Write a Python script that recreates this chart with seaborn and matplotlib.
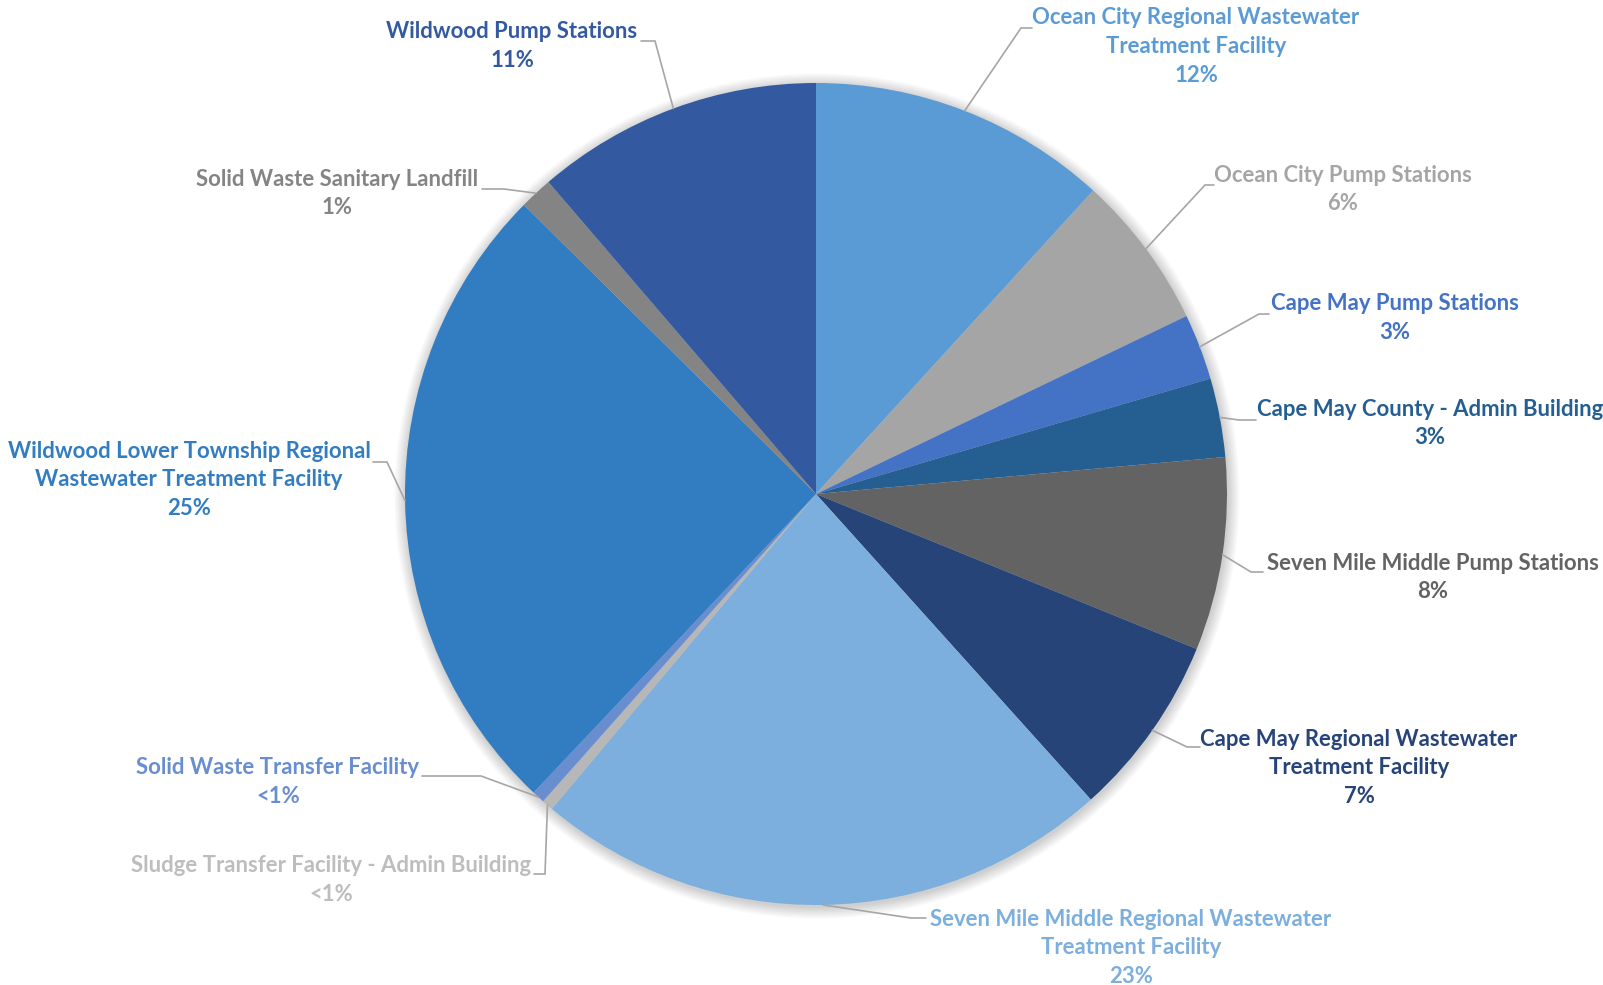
import numpy as np
import matplotlib
matplotlib.use("Agg")
import matplotlib.pyplot as plt
import seaborn as sns
from matplotlib.patches import Circle

sns.set_theme(style="white")
plt.rcParams['font.family'] = ['Lato', 'DejaVu Sans']

# --------------------------- data ---------------------------
facilities = [
    "Ocean City Regional Wastewater\nTreatment Facility",
    "Ocean City Pump Stations",
    "Cape May Pump Stations",
    "Cape May County - Admin Building",
    "Seven Mile Middle Pump Stations",
    "Cape May Regional Wastewater\nTreatment Facility",
    "Seven Mile Middle Regional Wastewater\nTreatment Facility",
    "Sludge Transfer Facility - Admin Building",
    "Solid Waste Transfer Facility",
    "Wildwood Lower Township Regional\nWastewater Treatment Facility",
    "Solid Waste Sanitary Landfill",
    "Wildwood Pump Stations",
]
shares = [11.8, 6.1, 2.6, 3.1, 7.6, 7.2, 22.8, 0.45, 0.5, 25.4, 1.3, 11.3]
pct_labels = ["12%", "6%", "3%", "3%", "8%", "7%", "23%", "<1%", "<1%", "25%", "1%", "11%"]

colors = ["#5B9BD5", "#A5A5A5", "#4472C4", "#255E91", "#636363", "#264478",
          "#7CAFDD", "#B7B7B7", "#698ED0", "#327DC2", "#848484", "#335AA1"]
text_colors = ["#5B9BD5", "#A5A5A5", "#4472C4", "#255E91", "#636363", "#264478",
               "#7CAFDD", "#BDBDBD", "#698ED0", "#327DC2", "#848484", "#335AA1"]

# --------------------------- layout (pixels, y from top) ---------------------------
W, H = 1603, 985
cx, cy, R = 816, 494, 411
# label block centre (x, y of first line)
label_pos = [(1196, 18), (1343, 175), (1395, 304), (1430, 409), (1433, 563), (1359, 739),
             (1131, 919), (331, 866), (278, 768), (189, 451), (337, 179), (512, 32)]
# leader elbow and end of the short horizontal piece
elbows = [((1021, 28), (1032, 28)), ((1205, 185), (1214, 185)), ((1259, 314), (1269, 314)),
          ((1239, 420), (1256, 420)), ((1251, 572), (1263, 572)), ((1187, 747), (1200, 747)),
          ((911, 918), (926, 918)), ((545, 874), (534, 874)), ((481, 776), (422, 776)),
          ((387, 462), (373, 462)), ((504, 189), (482, 189)), ((655, 41), (641, 41))]
line_gap = 28.7

fig = plt.figure(figsize=(W / 100, H / 100), dpi=100)
ax = fig.add_axes([0, 0, 1, 1])

# soft shadow round the pie
for i in range(8):
    ax.add_patch(Circle((cx + 1, H - cy - 2), R + 1 + i * 1.5, color="#000000",
                        alpha=0.025, lw=0, zorder=0))

wedges, _ = ax.pie(shares, colors=colors, startangle=90, counterclock=False,
                   radius=R, center=(cx, H - cy), frame=True,
                   wedgeprops=dict(linewidth=0))
ax.set_xlim(0, W)
ax.set_ylim(0, H)
ax.set_aspect("equal")
ax.axis("off")

for w, name, pct, tc, (lx, ly), (e1, e2) in zip(wedges, facilities, pct_labels,
                                                text_colors, label_pos, elbows):
    mid = np.deg2rad((w.theta1 + w.theta2) / 2)
    sx, sy = cx + R * np.cos(mid), (H - cy) + R * np.sin(mid)
    ax.plot([sx, e1[0], e2[0]], [sy, H - e1[1], H - e2[1]], color="#A6A6A6",
            lw=1.2, zorder=3, solid_joinstyle="miter")
    lines = name.split("\n") + [pct]
    for k, txt in enumerate(lines):
        ax.text(lx, H - (ly + k * line_gap), txt, ha="center", va="center",
                fontsize=15.9, fontweight="bold", color=tc, zorder=4)

fig.savefig("out.png", dpi=100)
